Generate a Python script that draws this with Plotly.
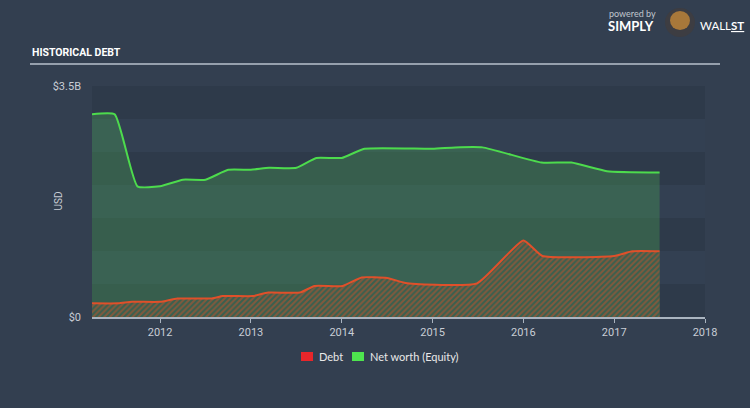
import plotly.graph_objects as go

# ---- data (USD billions) ----
equity_x = [2011.25, 2011.5, 2011.75, 2012.0, 2012.25, 2012.5, 2012.75, 2013.0, 2013.2, 2013.5,
            2013.72, 2014.0, 2014.25, 2015.0, 2015.25, 2015.55, 2016.2, 2016.53, 2016.92, 2017.5]
equity_y = [3.07, 3.07, 1.98, 1.98, 2.08, 2.08, 2.23, 2.23, 2.26, 2.26,
            2.41, 2.41, 2.55, 2.55, 2.57, 2.57, 2.34, 2.34, 2.21, 2.19]

debt_x = [2011.25, 2011.54, 2011.69, 2012.0, 2012.19, 2012.57, 2012.69, 2013.02, 2013.19, 2013.54,
          2013.7, 2014.01, 2014.22, 2014.5, 2014.72, 2015.49, 2016.0, 2016.21, 2017.0, 2017.2, 2017.5]
debt_y = [0.207, 0.207, 0.23, 0.23, 0.28, 0.28, 0.317, 0.317, 0.37, 0.37,
          0.47, 0.47, 0.60, 0.59, 0.51, 0.51, 1.16, 0.925, 0.925, 0.995, 0.995]

year_ticks = [2012, 2013, 2014, 2015, 2016, 2017, 2018]
year_labels = ["2012", "2013", "2014", "2015", "2016", "2017", "2018"]
y_ticks = [0, 3.5]
y_labels = ["$0", "$3.5B"]
legend_names = ["Debt", "Net worth (Equity)"]
legend_colors = ["#e8262a", "#4ee44e"]

BG = "#333f50"
BAND_DARK = "#2e3a4a"
BAND_LIGHT = "#334052"
TXT = "#c8cdd5"


def px(x):
    return (x - 92) / 613


def py(y):
    return (317 - y) / 231


fig = go.Figure()

fig.add_trace(go.Scatter(
    x=equity_x, y=equity_y, mode="lines",
    line=dict(color="#4ddb4d", width=2, shape="spline", smoothing=0.45),
    fill="tozeroy", fillcolor="rgba(75,180,86,0.30)", showlegend=False, hoverinfo="skip"))

fig.add_trace(go.Scatter(
    x=debt_x, y=debt_y, mode="lines",
    line=dict(color="#e0502a", width=2, shape="spline", smoothing=0.45),
    fill="tozeroy", fillcolor="rgba(0,0,0,0)",
    fillpattern=dict(shape="/", fgcolor="#cc522b", bgcolor="#38604f", size=4, solidity=0.5),
    showlegend=False, hoverinfo="skip"))

shapes = []
# horizontal bands
for i in range(7):
    lo = 0.5 * i
    color = BAND_DARK if i % 2 == 0 else BAND_LIGHT
    shapes.append(dict(type="rect", xref="paper", yref="y", x0=0, x1=1, y0=lo, y1=lo + 0.5,
                       fillcolor=color, line=dict(width=0), layer="below"))
# title underline
shapes.append(dict(type="line", xref="paper", yref="paper", x0=px(30), x1=px(720), y0=py(64), y1=py(64),
                   line=dict(color="#b8c2cc", width=1.5)))
# logo placeholder (bull)
shapes.append(dict(type="circle", xref="paper", yref="paper",
                   x0=px(665), x1=px(695), y0=py(37), y1=py(8),
                   fillcolor="#3d3d42", line=dict(width=0)))
shapes.append(dict(type="circle", xref="paper", yref="paper",
                   x0=px(670), x1=px(690), y0=py(30), y1=py(11),
                   fillcolor="#a8783a", line=dict(width=0)))

annotations = [
    dict(text="<b>HISTORICAL DEBT</b>", x=px(30), y=py(52), xref="paper", yref="paper",
         xanchor="left", yanchor="middle", showarrow=False,
         font=dict(family="Roboto, sans-serif", size=10.5, color="#ffffff")),
    dict(text="powered by", x=px(607), y=py(14), xref="paper", yref="paper",
         xanchor="left", yanchor="middle", showarrow=False,
         font=dict(family="Lato, sans-serif", size=9, color="#c0c6ce")),
    dict(text="<b>SIMPLY</b>", x=px(606), y=py(26), xref="paper", yref="paper",
         xanchor="left", yanchor="middle", showarrow=False,
         font=dict(family="Lato, sans-serif", size=13, color="#ffffff")),
    dict(text="WALL<b><u>ST</u></b>", x=px(698), y=py(26), xref="paper", yref="paper",
         xanchor="left", yanchor="middle", showarrow=False,
         font=dict(family="Lato, sans-serif", size=11.5, color="#ffffff")),
    dict(text="USD", x=px(58), y=0.5, xref="paper", yref="paper", textangle=-90,
         xanchor="center", yanchor="middle", showarrow=False,
         font=dict(family="Roboto, sans-serif", size=10, color=TXT)),
]

# manual legend
legend_x = [301, 352]
for name, color, lx in zip(legend_names, legend_colors, legend_x):
    shapes.append(dict(type="rect", xref="paper", yref="paper", x0=px(lx), x1=px(lx + 12),
                       y0=py(361), y1=py(352), fillcolor=color, line=dict(width=0)))
    annotations.append(dict(text=name, x=px(lx + 16), y=py(356.5), xref="paper", yref="paper",
                            xanchor="left", yanchor="middle", showarrow=False,
                            font=dict(family="Lato, sans-serif", size=11, color="#e8e8e8")))

fig.update_layout(
    width=750, height=408,
    margin=dict(l=92, r=45, t=86, b=91),
    paper_bgcolor=BG, plot_bgcolor=BAND_LIGHT,
    shapes=shapes, annotations=annotations,
    showlegend=False,
    xaxis=dict(range=[2011.25, 2018], tickmode="array", tickvals=year_ticks, ticktext=year_labels,
               showgrid=False, zeroline=False, showline=True, linecolor="#aab4c0", linewidth=1.5,
               ticks="outside", ticklen=4, tickcolor="#aab4c0",
               tickfont=dict(family="Roboto, sans-serif", size=11, color=TXT)),
    yaxis=dict(range=[0, 3.5], tickmode="array", tickvals=y_ticks, ticktext=y_labels,
               showgrid=False, zeroline=False, showline=False, ticks="", ticklabelstandoff=10,
               tickfont=dict(family="Roboto, sans-serif", size=11, color=TXT)),
)

fig.write_html("out.html", config={"displayModeBar": False},
               post_script="document.body.style.margin='0';document.body.style.overflow='hidden';")
